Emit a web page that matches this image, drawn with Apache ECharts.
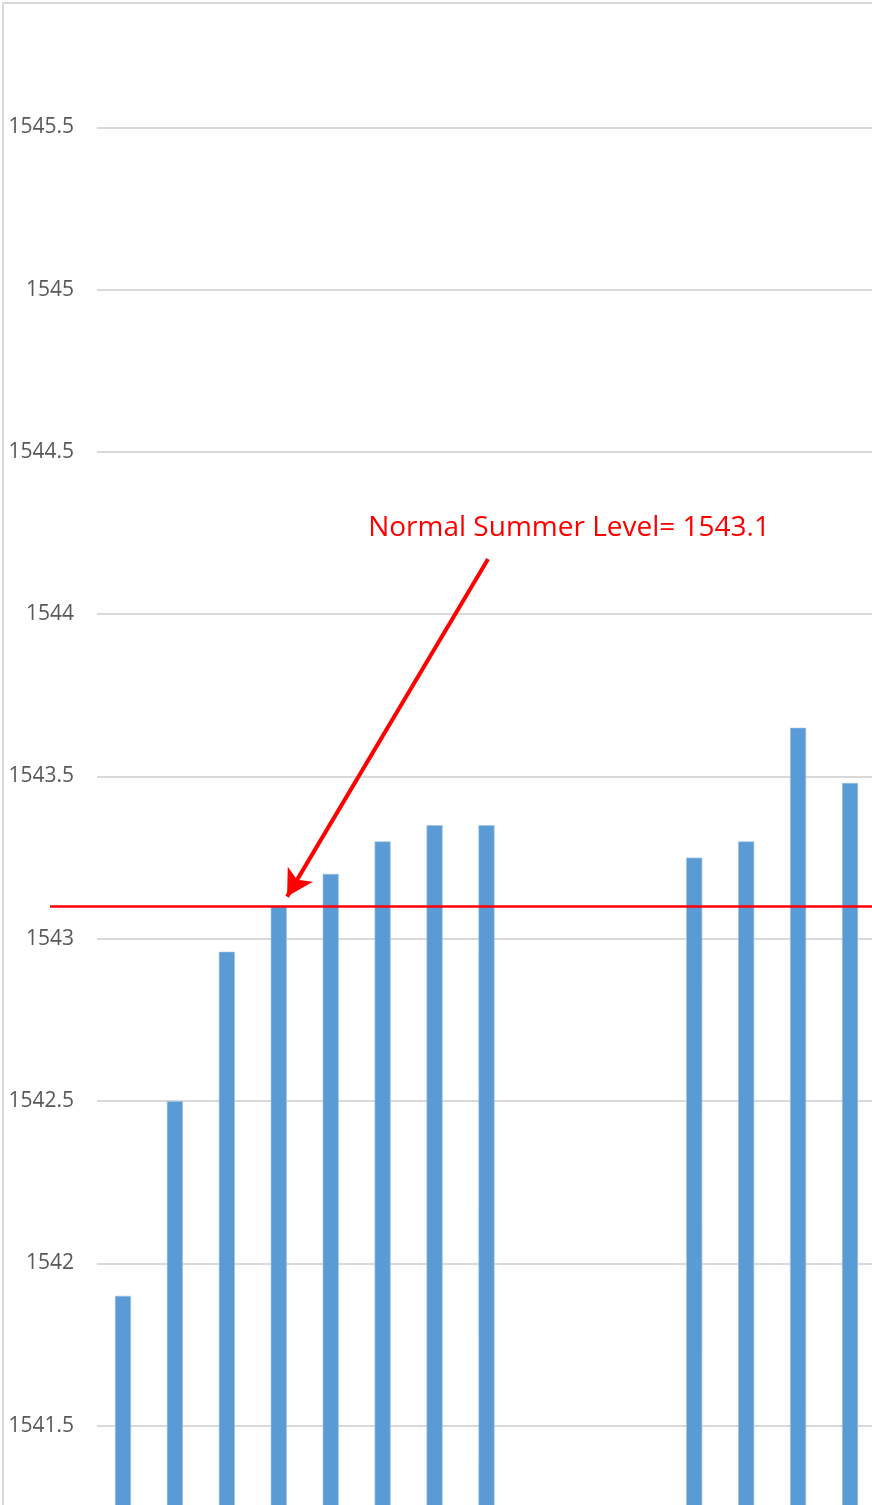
<!DOCTYPE html>
<html>
<head>
<meta charset="utf-8">
<script src="https://cdn.jsdelivr.net/npm/echarts@6/dist/echarts.min.js"></script>
<style>
html,body{margin:0;padding:0;background:#fff;width:872px;height:1505px;overflow:hidden;position:relative;}
#chart{position:absolute;left:0;top:-35px;width:876px;height:1623px;}
#frame{position:absolute;left:2px;top:2px;width:2000px;height:3000px;border-top:2px solid #d9d9d9;border-left:2px solid #d9d9d9;pointer-events:none;}
</style>
</head>
<body>
<div id="chart"></div>
<div id="frame"></div>
<script>
const categories = ['1','2','3','4','5','6','7','8','9','10','11','12','13','14','15'];
const levels = [1541.90, 1542.50, 1542.96, 1543.10, 1543.20, 1543.30, 1543.35, 1543.35, null, null, null, 1543.25, 1543.30, 1543.65, 1543.48];
const normalLevel = 1543.1;
const annotationText = 'Normal Summer Level= 1543.1';
const arrowFrom = [7.03, 1544.17];
const arrowTo = [3.16, 1543.13];
const textAt = [8.59, 1544.265];
const yMin = 1541, yMax = 1546, yStep = 0.5;

const chart = echarts.init(document.getElementById('chart'));
chart.setOption({
  animation: false,
  backgroundColor: 'transparent',
  grid: { left: 97, right: 0, top: 0, bottom: 0, containLabel: false, outerBoundsMode: 'none' },
  xAxis: [{
    type: 'category', data: categories,
    axisLine: { show: false }, axisTick: { show: false }, axisLabel: { show: false }
  }, {
    type: 'value', min: -0.5, max: categories.length - 0.5, show: false,
    splitLine: { show: false }
  }],
  yAxis: {
    type: 'value', min: yMin, max: yMax, interval: yStep,
    axisLine: { show: false }, axisTick: { show: false },
    axisLabel: { margin: 23, color: '#595959', fontSize: 21, fontFamily: 'Open Sans', formatter: v => String(v) },
    splitLine: { lineStyle: { color: '#d9d9d9', width: 2 } }
  },
  series: [{
    type: 'bar', data: levels, barWidth: 16,
    itemStyle: { color: '#5b9bd5', borderColor: '#9dc3e6', borderWidth: 0.6 },
    markLine: {
      silent: true, symbol: 'none', animation: false,
      label: { show: false },
      data: [
        [
          { x: 50, yAxis: normalLevel, lineStyle: { color: '#ff0000', width: 2.5, type: 'solid' } },
          { x: 876, yAxis: normalLevel }
        ]
      ]
    }
  }, {
    type: 'scatter', xAxisIndex: 1, yAxisIndex: 0, data: [], silent: true,
    markLine: {
      silent: true, symbol: 'none', animation: false,
      label: { show: false },
      data: [
        [
          { coord: arrowFrom, symbol: 'none', lineStyle: { color: '#ff0000', width: 4, type: 'solid' } },
          { coord: arrowTo, symbol: 'arrow', symbolSize: [22, 26] }
        ]
      ]
    },
    markPoint: {
      silent: true, animation: false,
      data: [{
        coord: textAt, symbol: 'rect', symbolSize: 0,
        label: { show: true, position: 'inside', formatter: annotationText, color: '#ff0000', fontSize: 28, fontFamily: 'Open Sans' }
      }]
    }
  }]
});
</script>
</body>
</html>
